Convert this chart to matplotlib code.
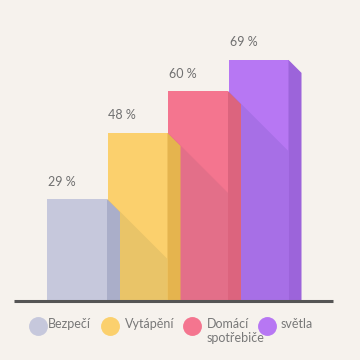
import matplotlib.pyplot as plt
from matplotlib.patches import Polygon

plt.rcParams["font.family"] = ["Lato", "DejaVu Sans"]

# data
categories = ["Bezpečí", "Vytápění", "Domácí\nspotřebiče", "světla"]
values = [29, 48, 60, 69]
labels = ["29 %", "48 %", "60 %", "69 %"]

# colours: front, side, shadow
front = ["#c6c8dc", "#fbd06d", "#f4758f", "#b777f3"]
side = ["#aaaec9", "#e5b44e", "#dc647e", "#9c64da"]
shade = ["#b9bbd2", "#e9c468", "#e36f89", "#a76fe6"]
bg = "#f6f2ed"

# layout (pixels)
W = 360
px = 3.48           # pixels per percent
base_y = 300        # baseline, from top
left0 = 47
step = 60.5
bw = 60
sw = 13

fig = plt.figure(figsize=(3.6, 3.6), dpi=100, facecolor=bg)
ax = fig.add_axes([0, 0, 1, 1])
ax.set_facecolor(bg)
ax.set_xlim(0, W)
ax.set_ylim(-(W - base_y) / px, base_y / px)
ax.axis("off")

u = 1 / px  # one pixel in value units
n = len(values)
for i in range(n):
    x = left0 + step * i
    v = values[i]
    z = 10 - i
    ax.bar(x, v, width=bw, align="edge", color=front[i], zorder=z, linewidth=0)
    # side face with slanted top
    ax.add_patch(Polygon([(x + bw, 0), (x + bw, v), (x + bw + sw, v - sw * u),
                          (x + bw + sw, 0)], closed=True, color=side[i], lw=0, zorder=z))
    # shadow cast by the previous bar
    if i > 0:
        t = values[i - 1]
        ax.add_patch(Polygon([(x, 0), (x, t), (x + bw, t - bw * u), (x + bw, 0)],
                             closed=True, color=shade[i], lw=0, zorder=z + 0.1))
    ax.text(x + 1, v + 17.5 * u, labels[i], ha="left", va="center",
            fontsize=9, color="#707070", zorder=20)

ax.plot([14, 333], [-1 * u, -1 * u], color="#555555", lw=2.2, zorder=30,
        solid_capstyle="butt")

# legend in pixel coords
leg = fig.add_axes([0, 0, 1, 1])
leg.set_xlim(0, W)
leg.set_ylim(W, 0)
leg.axis("off")
leg.patch.set_alpha(0)
dot_x = [38, 110, 192, 266.5]
txt_x = [48, 125, 207, 281]
for i in range(n):
    leg.scatter(dot_x[i], 325.5, s=185, color=front[i], lw=0, zorder=1)
    leg.text(txt_x[i], 317.5, categories[i], ha="left", va="top",
             fontsize=9, color="#787878", zorder=2, linespacing=1.25)

fig.savefig("out.png", dpi=100, facecolor=bg)
